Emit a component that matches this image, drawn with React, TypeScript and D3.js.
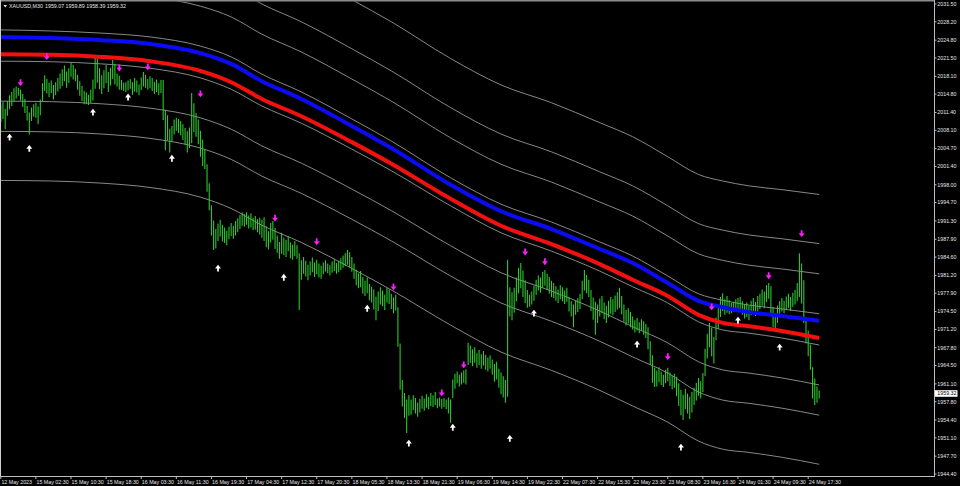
import { useEffect, useRef } from "react"
import * as d3 from "d3"

// last bar quote shown in the chart header (open, high, low, close)
const symbolName = "XAUUSD,M30"
const lastQuote = [1959.07, 1959.89, 1958.39, 1959.32]

// M30 bar highs / lows, oldest first
const highs = [
  2012.9, 2013.4, 2012.1, 2013.5, 2014.6, 2015.2, 2015.9, 2016.2, 2016.0, 2015.6,
  2014.8, 2013.9, 2012.6, 2011.4, 2012.3, 2012.9, 2013.2, 2012.5, 2013.8, 2016.8,
  2018.3, 2017.6, 2016.9, 2017.3, 2016.5, 2017.0, 2017.8, 2018.6, 2019.4, 2020.1,
  2019.0, 2019.6, 2020.7, 2020.2, 2019.5, 2018.4, 2017.2, 2016.3, 2015.4, 2015.1,
  2014.7, 2015.6, 2017.5, 2022.0, 2021.4, 2019.6, 2018.3, 2019.2, 2020.2, 2018.9,
  2019.7, 2021.1, 2020.4, 2018.6, 2018.2, 2017.4, 2016.9, 2017.0, 2017.3, 2017.6,
  2017.0, 2017.8, 2017.3, 2016.6, 2017.9, 2018.9, 2018.4, 2017.6, 2018.1, 2017.8,
  2017.1, 2017.5, 2016.8, 2017.4, 2017.4, 2011.9, 2010.9, 2008.4, 2008.9, 2010.1,
  2010.4, 2010.2, 2009.8, 2009.2, 2008.5, 2007.9, 2008.6, 2015.0, 2013.1, 2011.3,
  2010.1, 2008.0, 2006.4, 2004.5, 2001.8, 1998.3, 1994.2, 1991.4, 1989.8, 1990.8,
  1991.5, 1990.6, 1990.1, 1989.5, 1990.2, 1990.9, 1990.4, 1991.3, 1991.8, 1992.4,
  1992.9, 1992.6, 1992.9, 1992.3, 1992.7, 1991.9, 1992.2, 1991.6, 1991.9, 1991.5,
  1992.0, 1990.3, 1989.4, 1990.9, 1991.3, 1990.0, 1988.6, 1987.4, 1989.1, 1988.2,
  1987.8, 1988.5, 1987.3, 1986.9, 1987.6, 1986.8, 1985.3, 1984.0, 1984.6, 1983.9,
  1983.2, 1983.8, 1984.5, 1983.6, 1984.1, 1983.4, 1983.0, 1983.6, 1984.0, 1983.4,
  1983.1, 1983.8, 1984.2, 1983.5, 1983.9, 1984.4, 1984.9, 1985.3, 1985.9, 1985.5,
  1984.6, 1983.4, 1982.3, 1981.6, 1982.0, 1980.9, 1980.2, 1980.8, 1979.6, 1979.1,
  1978.6, 1977.3, 1978.2, 1979.0, 1978.4, 1977.6, 1978.9, 1978.6, 1977.8, 1977.1,
  1977.6, 1975.3, 1968.6, 1961.8, 1959.4, 1958.2, 1959.0, 1958.2, 1959.0, 1958.5,
  1957.6, 1958.3, 1958.9, 1958.4, 1959.2, 1958.7, 1959.4, 1959.0, 1959.6, 1958.4,
  1958.6, 1958.3, 1958.5, 1958.2, 1958.6, 1958.2, 1961.9, 1963.0, 1963.4, 1962.8,
  1963.2, 1963.6, 1963.8, 1968.7, 1968.2, 1967.5, 1967.9, 1966.8, 1967.4, 1966.6,
  1967.2, 1966.5, 1966.0, 1966.4, 1965.6, 1964.8, 1965.2, 1963.9, 1963.2, 1962.5,
  1961.8, 1984.1, 1979.0, 1978.1, 1978.9, 1980.8, 1982.6, 1983.5, 1982.1, 1980.3,
  1978.5, 1977.6, 1978.2, 1979.3, 1980.4, 1981.2, 1980.8, 1981.9, 1982.2, 1981.5,
  1980.9, 1980.2, 1979.8, 1979.2, 1978.6, 1979.4, 1979.0, 1978.4, 1978.9, 1977.2,
  1976.4, 1975.8, 1976.6, 1977.0, 1977.8, 1980.2, 1982.2, 1981.3, 1980.4, 1978.5,
  1977.1, 1976.3, 1975.8, 1976.9, 1977.4, 1976.2, 1975.6, 1976.5, 1977.2, 1976.8,
  1977.5, 1978.1, 1978.9, 1977.4, 1975.8, 1974.8, 1975.1, 1974.4, 1973.6, 1972.9,
  1973.3, 1972.5, 1973.1, 1972.7, 1972.2, 1971.6, 1969.0, 1966.4, 1964.1, 1963.6,
  1964.2, 1963.4, 1962.8, 1963.7, 1964.1, 1963.2, 1962.6, 1963.0, 1962.4, 1961.2,
  1960.0, 1959.1, 1960.2, 1959.3, 1958.7, 1959.6, 1960.4, 1961.3, 1962.2, 1961.6,
  1963.1, 1967.6, 1970.4, 1972.4, 1971.5, 1969.8, 1973.4, 1975.6, 1977.2, 1977.9,
  1976.8, 1977.4, 1976.6, 1976.1, 1976.3, 1976.8, 1977.0, 1977.2, 1976.4, 1975.8,
  1976.2, 1975.6, 1976.5, 1977.0, 1976.3, 1977.4, 1977.8, 1978.6, 1978.2, 1979.4,
  1979.8, 1979.2, 1975.3, 1974.1, 1975.6, 1976.4, 1977.0, 1976.5, 1977.3, 1977.8,
  1977.2, 1978.0, 1978.5, 1979.8, 1985.3, 1983.4, 1980.3, 1972.9, 1971.0, 1968.4,
  1964.2, 1962.1, 1960.6, 1959.89,
]

const lows = [
  2009.6, 2010.2, 2008.3, 2010.8, 2012.0, 2012.6, 2013.4, 2014.0, 2014.5, 2013.6,
  2012.4, 2011.3, 2009.9, 2007.3, 2009.8, 2010.6, 2010.4, 2009.2, 2010.9, 2013.5,
  2015.4, 2014.9, 2014.2, 2015.0, 2013.8, 2014.6, 2015.3, 2015.8, 2016.3, 2017.2,
  2016.0, 2016.9, 2018.0, 2017.5, 2017.2, 2015.6, 2014.5, 2013.5, 2012.9, 2012.9,
  2012.8, 2013.2, 2013.6, 2015.8, 2016.9, 2015.7, 2014.8, 2015.9, 2016.8, 2015.2,
  2016.4, 2017.6, 2016.6, 2016.2, 2015.6, 2015.6, 2015.4, 2015.2, 2015.5, 2015.8,
  2014.7, 2015.3, 2015.1, 2014.6, 2015.5, 2016.2, 2016.0, 2015.6, 2015.9, 2015.4,
  2014.8, 2015.2, 2014.6, 2015.0, 2010.0, 2004.4, 2006.2, 2004.0, 2006.0, 2007.3,
  2008.0, 2007.6, 2007.2, 2006.3, 2005.4, 2004.0, 2004.8, 2005.7, 2007.8, 2006.9,
  2005.5, 2003.2, 2001.5, 2000.9, 1996.7, 1993.3, 1988.6, 1985.9, 1986.2, 1987.6,
  1988.4, 1987.5, 1987.2, 1986.8, 1987.9, 1988.5, 1988.0, 1988.6, 1989.2, 1989.8,
  1990.4, 1990.2, 1990.6, 1989.9, 1990.1, 1989.6, 1989.7, 1989.2, 1988.8, 1988.2,
  1987.6, 1986.4, 1986.0, 1987.3, 1987.8, 1986.1, 1985.4, 1984.3, 1985.2, 1985.0,
  1984.6, 1985.7, 1984.4, 1984.1, 1984.8, 1984.3, 1974.8, 1980.4, 1981.5, 1981.0,
  1980.3, 1981.2, 1981.8, 1980.9, 1981.4, 1980.8, 1980.6, 1981.4, 1981.9, 1981.6,
  1981.2, 1981.7, 1982.0, 1981.5, 1981.8, 1982.2, 1982.6, 1982.9, 1983.2, 1982.7,
  1981.9, 1980.6, 1979.4, 1978.8, 1979.0, 1977.8, 1977.4, 1977.9, 1976.6, 1976.2,
  1974.9, 1972.9, 1974.6, 1975.8, 1975.5, 1974.8, 1976.2, 1975.9, 1975.0, 1974.2,
  1974.7, 1968.0, 1960.0, 1956.9, 1954.8, 1952.0, 1955.2, 1955.4, 1956.2, 1955.6,
  1955.0, 1955.8, 1956.5, 1956.1, 1956.7, 1956.4, 1957.0, 1956.8, 1957.2, 1956.6,
  1956.9, 1956.5, 1956.8, 1956.4, 1955.6, 1953.9, 1958.5, 1960.2, 1961.2, 1960.6,
  1961.0, 1961.3, 1961.0, 1964.6, 1965.0, 1964.4, 1965.0, 1964.1, 1964.6, 1963.9,
  1964.5, 1963.7, 1963.4, 1963.9, 1962.8, 1961.5, 1961.9, 1960.4, 1959.2, 1958.6,
  1957.6, 1958.7, 1973.6, 1972.9, 1974.3, 1976.4, 1977.9, 1978.8, 1977.2, 1976.1,
  1975.2, 1975.4, 1975.8, 1976.5, 1977.6, 1978.4, 1978.0, 1978.9, 1979.3, 1978.6,
  1977.8, 1977.2, 1977.0, 1976.5, 1976.1, 1976.8, 1976.4, 1975.9, 1976.3, 1974.5,
  1973.6, 1971.6, 1973.9, 1974.4, 1975.0, 1976.8, 1978.4, 1977.9, 1977.2, 1974.6,
  1973.0, 1970.2, 1972.4, 1973.6, 1974.2, 1973.1, 1972.4, 1973.4, 1974.1, 1973.8,
  1974.4, 1974.9, 1975.2, 1974.0, 1972.6, 1971.9, 1972.3, 1971.6, 1971.2, 1970.6,
  1971.0, 1970.5, 1970.9, 1970.2, 1969.6, 1967.5, 1964.6, 1961.3, 1960.5, 1960.6,
  1961.4, 1960.9, 1960.5, 1961.2, 1961.6, 1960.7, 1960.1, 1960.4, 1958.8, 1957.0,
  1955.3, 1954.4, 1956.4, 1955.6, 1954.6, 1955.8, 1957.2, 1958.0, 1958.9, 1958.4,
  1959.6, 1962.5, 1965.8, 1967.9, 1966.2, 1964.9, 1969.2, 1971.3, 1973.5, 1974.6,
  1973.9, 1974.3, 1974.0, 1974.2, 1974.5, 1974.7, 1974.6, 1974.4, 1973.9, 1973.2,
  1973.5, 1972.9, 1973.8, 1974.3, 1973.7, 1974.5, 1975.0, 1975.6, 1975.1, 1976.3,
  1976.9, 1974.2, 1971.6, 1971.1, 1972.4, 1973.8, 1974.5, 1974.2, 1974.8, 1975.2,
  1974.6, 1975.4, 1975.8, 1976.4, 1977.2, 1976.0, 1972.4, 1968.6, 1966.2, 1963.7,
  1958.4, 1957.2, 1957.6, 1958.39,
]

// one label every 16 bars
const timeLabels = [
  "12 May 2023", "15 May 02:30", "15 May 10:30", "15 May 18:30", "16 May 03:30", "16 May 11:30",
  "16 May 19:30", "17 May 04:30", "17 May 12:30", "17 May 20:30", "18 May 05:30", "18 May 13:30",
  "18 May 21:30", "19 May 06:30", "19 May 14:30", "19 May 22:30", "22 May 07:30", "22 May 15:30",
  "22 May 23:30", "23 May 08:30", "23 May 16:30", "24 May 01:30", "24 May 09:30", "24 May 17:30",
]

const priceTicks = [
  2031.5, 2028.2, 2024.8, 2021.5, 2018.1, 2014.8, 2011.4, 2008.1, 2004.7, 2001.4, 1998.0, 1994.7,
  1991.3, 1987.9, 1984.6, 1981.2, 1977.9, 1974.5, 1971.2, 1967.8, 1964.5, 1961.1, 1957.8, 1954.4,
  1951.1, 1947.7, 1944.4,
]

// moving averages, sampled at these bar indices
const maBars = [0, 23, 46, 68, 91, 105, 119, 137, 160, 178, 205, 228, 251, 273, 288, 304, 318, 329, 341, 356, 373]
const blueMA = [
  2025.4, 2025.2, 2024.8, 2024.1, 2022.4, 2020.4, 2017.2, 2013.9, 2008.9, 2004.8, 1998.0,
  1993.1, 1989.8, 1986.1, 1983.5, 1979.8, 1976.5, 1975.3, 1974.4, 1973.7, 1972.8,
]
const redMA = [
  2022.2, 2022.1, 2021.7, 2020.9, 2019.1, 2017.0, 2013.9, 2010.7, 2005.9, 2001.9, 1995.4,
  1990.4, 1987.0, 1983.3, 1980.4, 1977.4, 1973.9, 1972.4, 1971.8, 1970.9, 1969.6,
]
// envelope distances (price units) above the blue MA and below the red MA
const envelopeOffsets = [1.3, 8.7, 14.3, 23.4]

// fractal-style arrows: [bar index, price]
const downArrows = [
  [9, 2016.9], [21, 2021.7], [54, 2019.6], [67, 2019.8], [91, 2014.8], [125, 1991.8], [144, 1987.4],
  [179, 1979.05], [201, 1959.4], [211, 1964.6], [239, 1985.5], [248, 1983.7], [304, 1966.1],
  [324, 1975.35], [350, 1981.1], [365, 1988.9],
]
const upArrows = [
  [4, 2006.85], [13, 2004.8], [42, 2011.5], [58, 2014.3], [78, 2002.95], [99, 1982.6], [129, 1980.9],
  [167, 1975.15], [186, 1950.15], [206, 1953.1], [232, 1951.05], [243, 1974.25], [290, 1968.5],
  [310, 1949.4], [336, 1972.95], [355, 1967.95],
]

export default function App() {
  const svgRef = useRef<SVGSVGElement | null>(null)

  useEffect(() => {
    if (!svgRef.current) return
    const svg = d3.select(svgRef.current)
    svg.selectAll("*").remove()

    const W = 960
    const H = 486
    const axisX = 934
    const axisY = 476
    const font = "Liberation Sans, Arial, sans-serif"

    const x = d3
      .scaleLinear()
      .domain([0, highs.length - 1])
      .range([0.8, 0.8 + (highs.length - 1) * 2.194])
    const y = d3.scaleLinear().domain([1944.4, 2031.5]).range([474, 4])

    svg.append("rect").attr("width", W).attr("height", H).attr("fill", "#000")

    svg
      .append("defs")
      .append("clipPath")
      .attr("id", "plotClip")
      .append("rect")
      .attr("x", 0)
      .attr("y", 1.5)
      .attr("width", axisX)
      .attr("height", axisY - 1.5)

    const plot = svg.append("g").attr("clip-path", "url(#plotClip)")

    const maLine = d3
      .line<number>()
      .x((_, i) => x(maBars[i]))
      .y((d) => y(d))
      .curve(d3.curveMonotoneX)

    // envelope lines
    envelopeOffsets.forEach((off) => {
      plot
        .append("path")
        .attr("d", maLine(blueMA.map((v) => v + off)))
        .attr("fill", "none")
        .attr("stroke", "#a9a9a9")
        .attr("stroke-width", 0.8)
      plot
        .append("path")
        .attr("d", maLine(redMA.map((v) => v - off)))
        .attr("fill", "none")
        .attr("stroke", "#a9a9a9")
        .attr("stroke-width", 0.8)
    })

    // price bars
    plot
      .selectAll(".bar")
      .data(highs)
      .join("line")
      .attr("class", "bar")
      .attr("x1", (_, i) => x(i))
      .attr("x2", (_, i) => x(i))
      .attr("y1", (d) => y(d))
      .attr("y2", (_, i) => y(lows[i]))
      .attr("stroke", "#2ed02e")
      .attr("stroke-width", 1.05)

    // moving averages
    plot
      .append("path")
      .attr("d", maLine(blueMA))
      .attr("fill", "none")
      .attr("stroke", "#0b0bf5")
      .attr("stroke-width", 4)
    plot
      .append("path")
      .attr("d", maLine(redMA))
      .attr("fill", "none")
      .attr("stroke", "#f51010")
      .attr("stroke-width", 4)

    // arrows
    plot
      .selectAll(".dn")
      .data(downArrows)
      .join("path")
      .attr("class", "dn")
      .attr("d", ([i, p]) => {
        const cx = x(i)
        const cy = y(p)
        return `M${cx - 0.9},${cy - 3.6}h1.8v3h2.1l-3,3.8l-3,-3.8h2.1z`
      })
      .attr("fill", "#ff1aff")
    plot
      .selectAll(".up")
      .data(upArrows)
      .join("path")
      .attr("class", "up")
      .attr("d", ([i, p]) => {
        const cx = x(i)
        const cy = y(p)
        return `M${cx - 0.9},${cy + 3.6}h1.8v-3h2.1l-3,-3.8l-3,3.8h2.1z`
      })
      .attr("fill", "#ffffff")

    // frame
    svg.append("line").attr("x1", 0).attr("x2", axisX).attr("y1", 0.8).attr("y2", 0.8).attr("stroke", "#8a8a8a").attr("stroke-width", 1.6)
    svg.append("line").attr("x1", 0.5).attr("x2", 0.5).attr("y1", 0).attr("y2", axisY).attr("stroke", "#d0d0d0").attr("stroke-width", 1)
    svg.append("line").attr("x1", axisX + 0.5).attr("x2", axisX + 0.5).attr("y1", 0).attr("y2", axisY + 1).attr("stroke", "#bdbdbd").attr("stroke-width", 1)
    svg.append("line").attr("x1", 0).attr("x2", axisX + 1).attr("y1", axisY + 0.5).attr("y2", axisY + 0.5).attr("stroke", "#bdbdbd").attr("stroke-width", 1)

    // price axis
    const pa = svg.append("g")
    priceTicks.forEach((p) => {
      pa.append("line")
        .attr("x1", axisX)
        .attr("x2", axisX + 2.5)
        .attr("y1", y(p))
        .attr("y2", y(p))
        .attr("stroke", "#bdbdbd")
      pa.append("text")
        .attr("x", axisX + 3.3)
        .attr("y", y(p))
        .attr("dy", "0.35em")
        .attr("fill", "#e6e6e6")
        .attr("font-family", font)
        .attr("font-size", 5.3)
        .text(p.toFixed(2))
    })

    // current price box
    const last = lastQuote[3]
    pa.append("rect")
      .attr("x", axisX + 1)
      .attr("y", y(last) - 3.3)
      .attr("width", 22.5)
      .attr("height", 6.6)
      .attr("fill", "#ffffff")
    pa.append("text")
      .attr("x", axisX + 3.3)
      .attr("y", y(last))
      .attr("dy", "0.35em")
      .attr("fill", "#000")
      .attr("font-family", font)
      .attr("font-size", 5.3)
      .text(last.toFixed(2))

    // time axis
    const ta = svg.append("g")
    timeLabels.forEach((t, k) => {
      const tx = x(k * 16)
      ta.append("line")
        .attr("x1", tx)
        .attr("x2", tx)
        .attr("y1", axisY)
        .attr("y2", axisY + 3)
        .attr("stroke", "#bdbdbd")
      ta.append("text")
        .attr("x", tx + 0.6)
        .attr("y", 484)
        .attr("fill", "#e6e6e6")
        .attr("font-family", font)
        .attr("font-size", 5.3)
        .text(t)
    })

    // header
    svg.append("path").attr("d", "M3.5,5L7,5L5.25,7.5Z").attr("fill", "#e6e6e6")
    svg
      .append("text")
      .attr("x", 9)
      .attr("y", 7.8)
      .attr("fill", "#e6e6e6")
      .attr("font-family", font)
      .attr("font-size", 5.3)
      .text(symbolName)
    svg
      .append("text")
      .attr("x", 45)
      .attr("y", 7.8)
      .attr("fill", "#e6e6e6")
      .attr("font-family", font)
      .attr("font-size", 5.3)
      .text(lastQuote.map((v) => v.toFixed(2)).join(" "))
  }, [])

  return (
    <div style={{ position: "fixed", left: 0, top: 0, width: 960, height: 486, background: "#000" }}>
      <svg ref={svgRef} width={960} height={486} style={{ display: "block" }}></svg>
    </div>
  )
}
